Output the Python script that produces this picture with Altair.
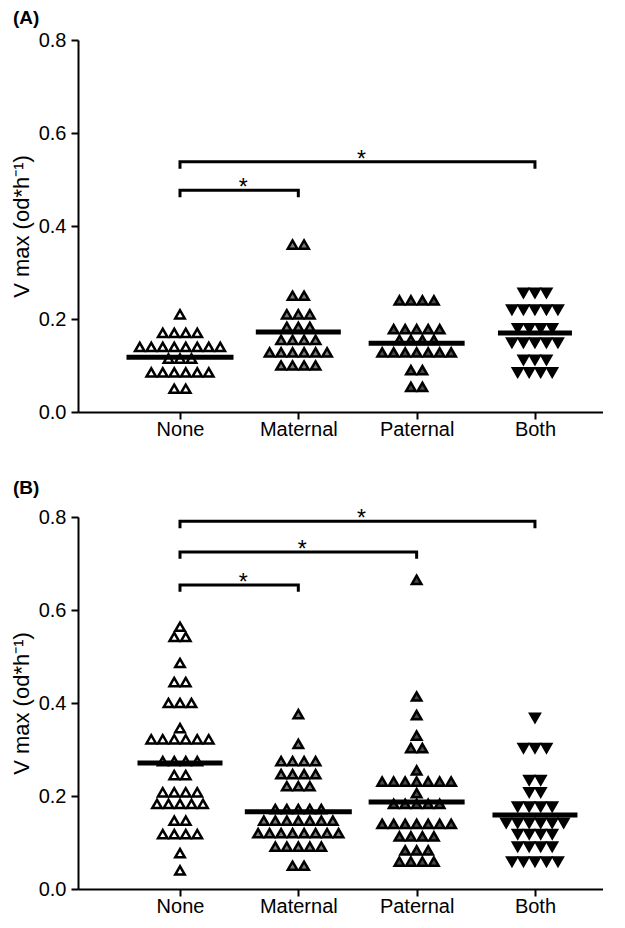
import altair as alt
import pandas as pd

categories = ["None", "Maternal", "Paternal", "Both"]
fill_colors = ["#ffffff", "#7a7a7a", "#4a4a4a", "#000000"]
shape_names = ["triangle-up", "triangle-up", "triangle-up", "triangle-down"]

# ---- Panel A values (V max, od*h^-1) ----
a_none = [0.21] + [0.17] * 4 + [0.14] * 8 + [0.115] * 3 + [0.085] * 6 + [0.05] * 2
a_maternal = [0.36] * 2 + [0.25] * 2 + [0.21] * 3 + [0.183] * 3 + [0.155] * 4 + [0.128] * 6 + [0.10] * 4
a_paternal = [0.24] * 4 + [0.178] * 5 + [0.155] * 4 + [0.128] * 7 + [0.09] * 2 + [0.054] * 2
a_both = [0.256] * 3 + [0.22] * 5 + [0.18] * 4 + [0.149] * 5 + [0.112] * 3 + [0.085] * 4
means_a = [0.118, 0.172, 0.148, 0.170]
brackets_a = [("None", "Both", 0.538), ("None", "Maternal", 0.477)]

# ---- Panel B values ----
b_none = ([0.564] + [0.542] * 2 + [0.486] + [0.445] * 2 + [0.40] * 3 + [0.346] + [0.322] * 6
          + [0.275] * 4 + [0.245] * 2 + [0.208] * 4 + [0.183] * 5 + [0.147] * 2 + [0.118] * 4
          + [0.077] + [0.04])
b_maternal = ([0.376, 0.312] + [0.275] * 4 + [0.247] * 4 + [0.221] * 3 + [0.172] * 5
              + [0.147] * 7 + [0.12] * 8 + [0.091] * 5 + [0.05] * 2)
b_paternal = ([0.665, 0.414, 0.374, 0.33] + [0.303] * 2 + [0.255] + [0.231] * 7 + [0.206]
              + [0.183] * 5 + [0.14] * 7 + [0.113] * 4 + [0.083] * 3 + [0.059] * 4)
b_both = ([0.368] + [0.303] * 3 + [0.234] * 2 + [0.208] * 2 + [0.177] * 4 + [0.142] * 6
          + [0.118] * 4 + [0.091] * 4 + [0.059] * 5)
means_b = [0.271, 0.166, 0.187, 0.159]
brackets_b = [("None", "Both", 0.791), ("None", "Paternal", 0.725), ("None", "Maternal", 0.654)]

y_ticks = [0.0, 0.2, 0.4, 0.6, 0.8]
y_title = "V max (od*h⁻¹)"

W, H = 525, 372
XMIN, XMAX = -0.862, 3.575
PX = W / (XMAX - XMIN)          # pixels per category unit
GAP = 11.5 / PX                 # horizontal spacing of symbols in a row
END = 0.015                     # depth of bracket ends (data units)
FONT = "Liberation Sans, Arial, Helvetica, sans-serif"

label_expr = "[" + ",".join("'%s'" % c for c in categories) + "][datum.value]"

x_axis = alt.Axis(values=[0, 1, 2, 3], labelExpr=label_expr, title=None, tickSize=7,
                  tickWidth=2, domainWidth=2, labelFontSize=20, labelPadding=0, grid=False)
y_axis = alt.Axis(values=y_ticks, format=".1f", title=y_title, tickSize=7, tickWidth=2,
                  domainWidth=2, labelFontSize=20, labelPadding=5, titleFontSize=22,
                  titleFontWeight="normal", titlePadding=5, grid=False)
x_scale = alt.Scale(domain=[XMIN, XMAX], nice=False, zero=False)
y_scale = alt.Scale(domain=[0, 0.8], nice=False)


def swarm(groups):
    pts, means_rows = [], []
    for gi, vals in enumerate(groups):
        counts = {}
        for v in vals:
            counts[v] = counts.get(v, 0) + 1
        for v, n in counts.items():
            for i in range(n):
                pts.append({"group": categories[gi], "x": gi + (i - (n - 1) / 2) * GAP, "v": v})
        means_rows.append(max(counts.values()))
    return pd.DataFrame(pts), means_rows


def panel(tag, groups, means, brackets, tag_y):
    pts_df, maxrows = swarm(groups)
    mean_df = pd.DataFrame([
        {"x": gi - (11 * maxrows[gi] + 19) / 2 / PX,
         "x2": gi + (11 * maxrows[gi] + 19) / 2 / PX, "v": m}
        for gi, m in enumerate(means)])
    br_rows, star_rows = [], []
    for k, (c1, c2, yv) in enumerate(brackets):
        i1, i2 = categories.index(c1), categories.index(c2)
        for o, (xx, yy) in enumerate([(i1, yv - END), (i1, yv), (i2, yv), (i2, yv - END)]):
            br_rows.append({"b": k, "o": o, "x": xx, "v": yy})
        star_rows.append({"x": (i1 + i2) / 2 + 4 / PX, "v": yv})
    br_df = pd.DataFrame(br_rows)
    star_df = pd.DataFrame(star_rows)

    X = alt.X("x:Q", scale=x_scale, axis=x_axis)
    Y = alt.Y("v:Q", scale=y_scale, axis=y_axis)

    points = alt.Chart(pts_df).mark_point(
        filled=True, size=90, stroke="black", strokeWidth=2.5, opacity=1, strokeJoin="miter"
    ).encode(
        x=X, y=Y,
        shape=alt.Shape("group:N", scale=alt.Scale(domain=categories, range=shape_names), legend=None),
        fill=alt.Fill("group:N", scale=alt.Scale(domain=categories, range=fill_colors), legend=None),
    )
    mean_lines = alt.Chart(mean_df).mark_rule(color="black", strokeWidth=5).encode(
        x=X, x2="x2:Q", y=Y)
    bracket_lines = alt.Chart(br_df).mark_line(
        color="black", strokeWidth=3, strokeJoin="miter", strokeCap="butt"
    ).encode(x=X, y=Y, detail="b:N", order="o:Q")
    stars = alt.Chart(star_df).mark_text(
        text="*", fontSize=23, font=FONT, baseline="alphabetic", dy=5, color="black"
    ).encode(x=X, y=Y)
    tag_text = alt.Chart(alt.Data(values=[{}])).mark_text(
        font=FONT, fontSize=19, fontWeight="bold", align="left", baseline="top", color="black"
    ).encode(x=alt.value(-65), y=alt.value(tag_y), text=alt.value(tag))

    return alt.layer(points, mean_lines, bracket_lines, stars, tag_text).properties(width=W, height=H)


top = panel("(A)", [a_none, a_maternal, a_paternal, a_both], means_a, brackets_a, -31)
bottom = panel("(B)", [b_none, b_maternal, b_paternal, b_both], means_b, brackets_b, -38)

chart = alt.vconcat(top, bottom, spacing=40).properties(
    padding={"left": 2, "top": 1, "right": 0, "bottom": 0}
).configure_axis(
    domainColor="black", tickColor="black", labelColor="black", titleColor="black",
    labelFont=FONT, titleFont=FONT
).configure_view(stroke=None)

chart.save("out.html", embed_options={"renderer": "svg", "actions": False})
